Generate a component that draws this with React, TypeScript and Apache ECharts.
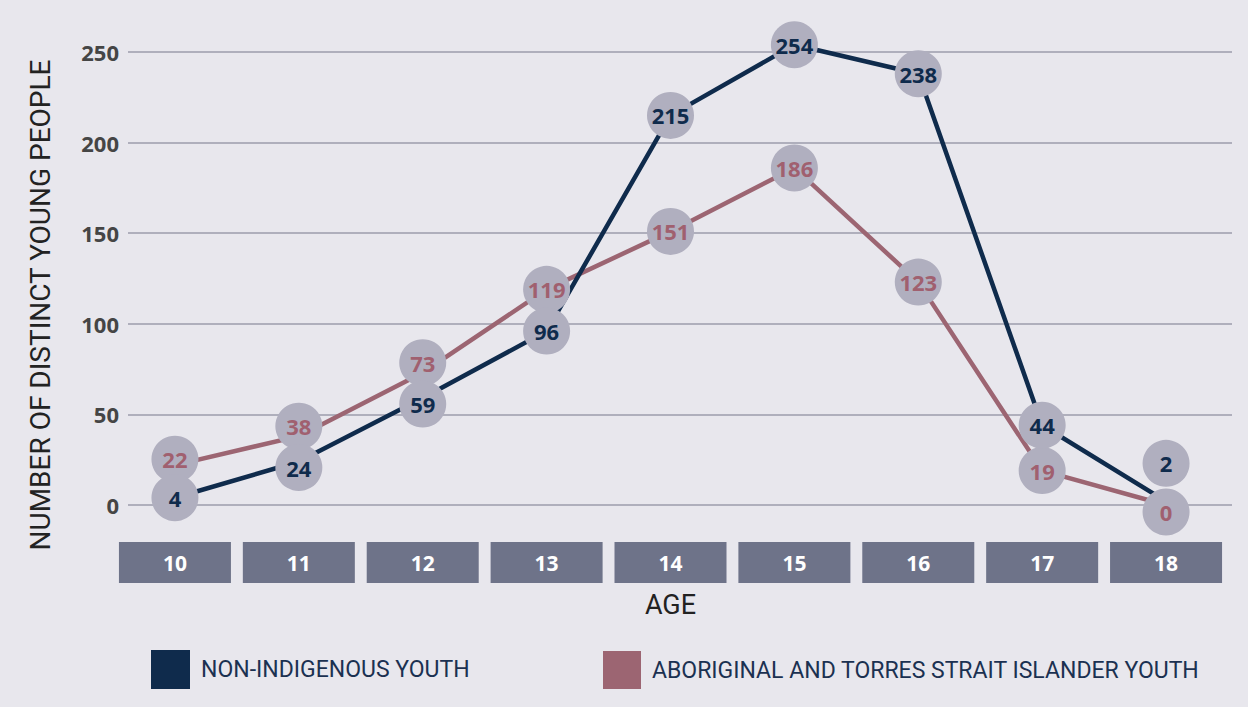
import React, { useEffect, useRef } from "react";
import * as echarts from "echarts";

const ages = ["10", "11", "12", "13", "14", "15", "16", "17", "18"];
const nonIndigenous = [4, 24, 59, 96, 215, 254, 238, 44, 2];
const aboriginal = [22, 38, 73, 119, 151, 186, 123, 19, 0];
const seriesNames = ["NON-INDIGENOUS YOUTH", "ABORIGINAL AND TORRES STRAIT ISLANDER YOUTH"];
const yAxisTitle = "NUMBER OF DISTINCT YOUNG PEOPLE";
const xAxisTitle = "AGE";

const NAVY = "#0f2b4c";
const PINK = "#9c6572";
const CIRCLE = "#b0afbf";
const BG = "#e8e7ed";
const BOX = "#6e7389";
const COND = "Roboto";

export default function App() {
  const ref = useRef<HTMLDivElement>(null);
  useEffect(() => {
    document.body.style.margin = "0";
    const chart = echarts.init(ref.current!, undefined, { renderer: "svg" });
    const withOffsets = (vals: number[], offsets: Record<number, number[]>) =>
      vals.map((v, i) => (offsets[i] ? { value: v, symbolOffset: offsets[i] } : v));
    const lineSeries = (name: string, vals: number[], color: string) => ({
      name,
      type: "line",
      xAxisIndex: 1,
      yAxisIndex: 1,
      data: vals,
      clip: false,
      symbol: "none",
      itemStyle: { color },
      lineStyle: { color, width: 4.5 },
      z: 2,
    });
    const dotSeries = (name: string, vals: any[], color: string, z: number) => ({
      name,
      type: "scatter",
      xAxisIndex: 1,
      yAxisIndex: 1,
      data: vals,
      clip: false,
      symbol: "circle",
      symbolSize: 47,
      itemStyle: { color: CIRCLE, opacity: 1 },
      label: {
        show: true,
        position: "inside",
        color,
        fontFamily: "Open Sans",
        fontWeight: "bold",
        fontSize: 22,
      },
      emphasis: { disabled: true },
      z,
    });

    chart.setOption({
      animation: false,
      backgroundColor: BG,
      grid: [
        { left: 128, right: 16, top: 52, bottom: 202 },
        { left: 113, right: 20, top: 52, bottom: 202 },
      ],
      xAxis: [
        { type: "value", gridIndex: 0, show: false, min: 0, max: 1 },
        {
          type: "category",
          gridIndex: 1,
          data: ages,
          boundaryGap: true,
          axisLine: { show: false },
          axisTick: { show: false },
          axisLabel: {
            margin: 37,
            color: "#ffffff",
            fontFamily: "Open Sans",
            fontWeight: "bold",
            fontSize: 21,
            backgroundColor: BOX,
            width: 112,
            height: 41,
            lineHeight: 41,
            align: "center",
          },
          name: xAxisTitle,
          nameLocation: "middle",
          nameGap: 86,
          nameTextStyle: { fontFamily: COND, fontSize: 27, color: "#222222" },
        },
      ],
      yAxis: [
        {
          type: "value",
          gridIndex: 0,
          min: 0,
          max: 250,
          interval: 50,
          axisLine: { show: false },
          axisTick: { show: false },
          axisLabel: {
            color: "#454545",
            fontFamily: "Open Sans",
            fontWeight: "bold",
            fontSize: 22,
            margin: 9,
          },
          splitLine: { lineStyle: { color: "#9d9dab", width: 1.5 } },
        },
        { type: "value", gridIndex: 1, min: 0, max: 250, show: false },
      ],
      legend: [
        {
          data: [{ name: seriesNames[0], itemStyle: { color: NAVY, borderWidth: 0 } }],
          left: 146,
          top: 645,
          icon: "rect",
          itemWidth: 39,
          itemHeight: 39,
          itemStyle: { borderWidth: 0 },
          textStyle: { fontFamily: COND, fontSize: 23, color: "#1b3151", padding: [0, 0, 0, 6] },
        },
        {
          data: [{ name: seriesNames[1], itemStyle: { color: PINK, borderWidth: 0 } }],
          left: 598,
          top: 646,
          icon: "rect",
          itemWidth: 38,
          itemHeight: 38,
          itemStyle: { borderWidth: 0 },
          textStyle: { fontFamily: COND, fontSize: 23, color: "#1b3151", padding: [0, 0, 0, 6] },
        },
      ],
      graphic: [
        {
          type: "text",
          x: 40,
          y: 305,
          rotation: Math.PI / 2,
          style: {
            text: yAxisTitle,
            fontFamily: COND,
            fontSize: 28,
            fill: "#222222",
            align: "center",
            verticalAlign: "middle",
          },
        },
      ],
      series: [
        lineSeries(seriesNames[1], aboriginal, PINK),
        lineSeries(seriesNames[0], nonIndigenous, NAVY),
        dotSeries(
          "aboriginal-labels",
          withOffsets(aboriginal, { 0: [0, -6], 1: [0, -10], 2: [0, -10], 8: [0, 7] }),
          "#a0606f",
          3
        ),
        dotSeries(
          "non-indigenous-labels",
          withOffsets(nonIndigenous, { 1: [0, 6], 2: [0, 6], 8: [0, -38] }),
          NAVY,
          4
        ),
      ],
    });
    return () => chart.dispose();
  }, []);
  return <div ref={ref} style={{ width: 1248, height: 707 }} />;
}
